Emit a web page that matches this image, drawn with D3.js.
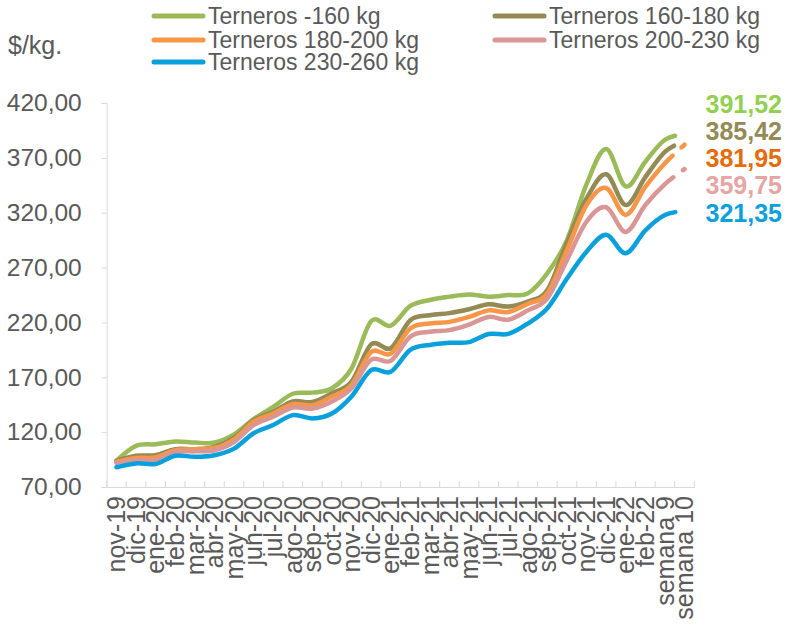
<!DOCTYPE html>
<html>
<head>
<meta charset="utf-8">
<script src="https://cdn.jsdelivr.net/npm/d3@7"></script>
<style>
  body { margin: 0; background: #fff; }
  text { font-family: "Liberation Sans", Arial, sans-serif; fill: #595959; }
</style>
</head>
<body>
<div id="chart"></div>
<script>
    // categories (months + last two weeks)
    var categories = ["nov-19", "dic-19", "ene-20", "feb-20", "mar-20", "abr-20", "may-20", "jun-20",
      "jul-20", "ago-20", "sep-20", "oct-20", "nov-20", "dic-20", "ene-21", "feb-21", "mar-21",
      "abr-21", "may-21", "jun-21", "jul-21", "ago-21", "sep-21", "oct-21", "nov-21", "dic-21",
      "ene-22", "feb-22", "semana 9", "semana 10"];

    var seriesNames = ["Terneros -160 kg", "Terneros 160-180 kg", "Terneros 180-200 kg",
      "Terneros 200-230 kg", "Terneros 230-260 kg"];

    var terneros160 = [94, 107.5, 109, 111.5, 110.5, 110.5, 118, 132, 143, 155, 156, 160, 178, 221, 217,
      235, 240.5, 243.5, 245.5, 243.5, 245, 246.5, 265, 295, 346, 378, 344, 366.5, 386.5, 391.52];
    var terneros160_180 = [94, 98.5, 99, 104.5, 104.5, 106.5, 115, 131, 138.5, 148, 147.5, 155.5, 166, 200, 196.5,
      222, 226.5, 228.5, 232, 236.5, 234.5, 239, 249.5, 293, 333, 355, 327, 352.5, 375.5, 385.42];
    var terneros180_200 = [93, 96.5, 97, 103.5, 104.5, 105.5, 113.5, 129.5, 137, 145.5, 144.5, 152.5, 163, 193, 191.5,
      214.5, 219, 220.5, 225, 231, 229.5, 237, 246.5, 286, 327, 342.5, 318, 343.5, 365, 381.95];
    var terneros200_230 = [92, 94.5, 94.5, 102, 102.5, 103.5, 111, 126.5, 134, 142.5, 141.5, 148, 160, 186, 185,
      207, 211.5, 213, 218, 225, 222.5, 231, 242, 277, 312, 325, 302.5, 327, 346, 359.75];
    var terneros230_260 = [88, 91.5, 91, 98.5, 97.5, 99, 105, 119, 126.5, 135.5, 132.5, 137, 152.5, 176.5, 175,
      195, 199.5, 201.5, 202, 209.5, 209.5, 219, 233, 260, 284.5, 300, 283, 304, 318, 321.35];

    var yTicks = [70, 120, 170, 220, 270, 320, 370, 420];
    var lastLabels = ["391,52", "385,42", "381,95", "359,75", "321,35"];

    var lineColors = ["#9BBB59", "#948A54", "#F79646", "#D99694", "#0AA0DC"];
    var labelColors = ["#92D050", "#948A54", "#E46C0A", "#E6A5A3", "#0AA0DC"];

    var series = [terneros160, terneros160_180, terneros180_200, terneros200_230, terneros230_260]
      .map(function(v, i) { return {name: seriesNames[i], values: v, color: lineColors[i], label: lastLabels[i], labelColor: labelColors[i]}; });

    var width = 785, height = 631;
    var svg = d3.select("#chart").append("svg")
        .attr("width", width)
        .attr("height", height);

    var x = d3.scaleBand().domain(categories).range([106.7, 694.3]);
    var y = d3.scaleLinear().domain([70, 420]).range([487, 103]);
    var cx = function(i) { return x(categories[i]) + x.bandwidth() / 2; };

    // y axis
    var yAxis = svg.append("g")
        .attr("transform", "translate(" + x.range()[0] + ",0)")
        .call(d3.axisLeft(y).tickValues(yTicks).tickSize(5).tickPadding(20)
          .tickFormat(function(d) { return d.toFixed(2).replace(".", ","); }));
    yAxis.select(".domain").attr("stroke", "#D9D9D9");
    yAxis.selectAll(".tick line").attr("stroke", "#D9D9D9");
    yAxis.selectAll(".tick text").style("font-size", "24.5px").attr("fill", "#595959");

    // x axis: labels centred in the band, tick marks on the boundaries (inside)
    var xAxis = svg.append("g")
        .attr("transform", "translate(0," + y.range()[0] + ")")
        .call(d3.axisBottom(x).tickSize(0));
    xAxis.select(".domain").attr("stroke", "#D9D9D9");
    xAxis.selectAll(".tick text")
        .style("font-size", "25px")
        .attr("fill", "#595959")
        .attr("transform", "rotate(-90)")
        .attr("text-anchor", "end")
        .attr("x", -9)
        .attr("y", 0)
        .attr("dy", "0.35em");
    xAxis.selectAll(".bound")
        .data(categories.concat([null]))
        .enter().append("line")
          .attr("class", "bound")
          .attr("x1", function(d) { return d === null ? x.range()[1] : x(d); })
          .attr("x2", function(d) { return d === null ? x.range()[1] : x(d); })
          .attr("y1", 0).attr("y2", -6)
          .attr("stroke", "#D9D9D9");

    // lines
    var line = d3.line()
        .x(function(d, i) { return cx(i); })
        .y(function(d) { return y(d); })
        .curve(d3.curveCardinal.tension(0));

    var xSemana9 = cx(categories.length - 2);
    function lengthAtX(node, tx) {
      var lo = 0, hi = node.getTotalLength();
      for (var k = 0; k < 40; k++) {
        var mid = (lo + hi) / 2;
        if (node.getPointAtLength(mid).x < tx) lo = mid; else hi = mid;
      }
      return lo;
    }

    svg.append("g").attr("class", "lines")
      .selectAll("path")
      .data(series)
      .enter().append("path")
        .attr("d", function(d) { return line(d.values); })
        .attr("fill", "none")
        .attr("stroke", function(d) { return d.color; })
        .attr("stroke-width", 4.5)
        .attr("stroke-linecap", "round")
        .attr("stroke-linejoin", "round")
        .each(function() {
          // last segment (semana 9 -> semana 10) is dashed
          var L = lengthAtX(this, xSemana9);
          d3.select(this).attr("stroke-dasharray", [L + 10, 12, 10, 400].join(","));
        });

    // last values on the right
    var labelY = [104, 131, 158, 185, 213];
    svg.append("g").selectAll("text")
      .data(series)
      .enter().append("text")
        .attr("x", 782)
        .attr("y", function(d, i) { return labelY[i]; })
        .attr("dy", "0.35em")
        .attr("text-anchor", "end")
        .style("font-size", "25px")
        .style("font-weight", "bold")
        .style("fill", function(d) { return d.labelColor; })
        .text(function(d) { return d.label; });

    // unit
    svg.append("text")
        .attr("x", 8).attr("y", 45).attr("dy", "0.35em")
        .style("font-size", "25px")
        .text("$/kg.");

    // legend
    var legendPos = [[152, 16], [493, 16], [152, 40], [493, 40], [152, 62]];
    var legend = svg.append("g").selectAll("g")
      .data(series)
      .enter().append("g")
        .attr("transform", function(d, i) { return "translate(" + legendPos[i][0] + "," + legendPos[i][1] + ")"; });
    legend.append("line")
        .attr("x1", 2).attr("x2", 51)
        .attr("stroke", function(d) { return d.color; })
        .attr("stroke-width", 5)
        .attr("stroke-linecap", "round");
    legend.append("text")
        .attr("x", 56).attr("dy", "0.35em")
        .style("font-size", "23px")
        .text(function(d) { return d.name; });
</script>
</body>
</html>
